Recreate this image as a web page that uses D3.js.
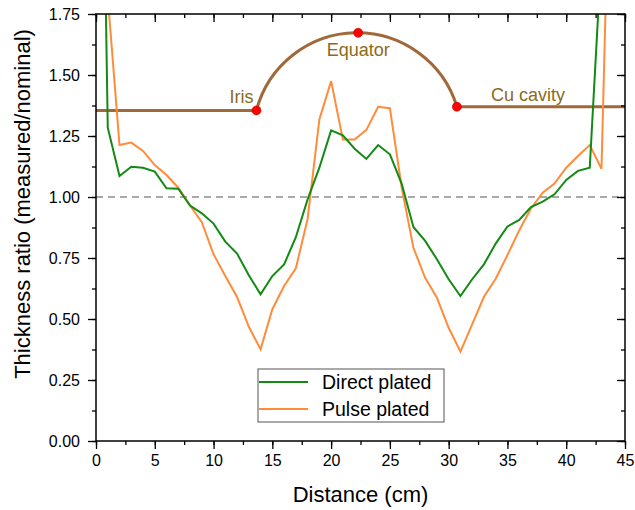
<!DOCTYPE html>
<html><head><meta charset="utf-8">
<script src="https://cdn.jsdelivr.net/npm/d3@7"></script>
<style>body{margin:0;background:#fff}svg{display:block;font-family:"Liberation Sans",Arial,sans-serif}</style>
</head><body><svg id="c" width="635" height="510"></svg>
<script>
const directX = d3.range(0, 44);
const directY = [4.3,1.284,1.086,1.124,1.12,1.104,1.036,1.034,0.965,0.933,0.891,0.817,0.768,0.679,0.601,0.676,0.724,0.835,0.99,1.12,1.273,1.253,1.198,1.156,1.213,1.175,1.055,0.877,0.82,0.745,0.663,0.594,0.663,0.724,0.809,0.879,0.906,0.959,0.981,1.011,1.07,1.107,1.12,2.0];
const pulseX = d3.range(1, 45);
const pulseY = [1.82,1.213,1.223,1.189,1.131,1.09,1.038,0.965,0.897,0.765,0.676,0.59,0.468,0.376,0.54,0.635,0.708,0.91,1.318,1.475,1.236,1.236,1.275,1.37,1.364,1.04,0.792,0.669,0.587,0.464,0.366,0.478,0.591,0.665,0.762,0.863,0.953,1.018,1.055,1.12,1.168,1.213,1.116,3.0];
const seriesNames = ["Direct plated", "Pulse plated"];
const cavityNames = ["Iris", "Equator", "Cu cavity"];
const cavityX = [13.65, 22.3, 30.7];
const cavityY = [1.355, 1.673, 1.37];
const xTicks = [0,5,10,15,20,25,30,35,40,45];
const yTicks = [0,0.25,0.5,0.75,1.0,1.25,1.5,1.75];

const svg = d3.select("#c");
const L=96,R=625,T=14,B=441;
const x = d3.scaleLinear().domain([0,45]).range([L,R]);
const y = d3.scaleLinear().domain([0,1.75]).range([B,T]);
const green="#138a13", orange="#ff8c3a", brown="#a0693a", labelC="#8c6a1c";

svg.append("defs").append("clipPath").attr("id","clip").append("rect")
  .attr("x",L).attr("y",T).attr("width",R-L).attr("height",B-T);

// reference line at 1.0
svg.append("line").attr("x1",x(0)).attr("x2",x(45)).attr("y1",y(1)).attr("y2",y(1))
  .attr("stroke","#8c8c8c").attr("stroke-width",1.5).attr("stroke-dasharray","7,5");

// cavity outline
const g = svg.append("g").attr("clip-path","url(#clip)");
const P = cavityX.map((d,i)=>[x(d), y(cavityY[i])]);
function circ(a,b,c){
  const d=2*(a[0]*(b[1]-c[1])+b[0]*(c[1]-a[1])+c[0]*(a[1]-b[1]));
  const ux=((a[0]**2+a[1]**2)*(b[1]-c[1])+(b[0]**2+b[1]**2)*(c[1]-a[1])+(c[0]**2+c[1]**2)*(a[1]-b[1]))/d;
  const uy=((a[0]**2+a[1]**2)*(c[0]-b[0])+(b[0]**2+b[1]**2)*(a[0]-c[0])+(c[0]**2+c[1]**2)*(b[0]-a[0]))/d;
  return [ux,uy,Math.hypot(a[0]-ux,a[1]-uy)];
}
const [cx,cy,r]=circ(P[0],P[1],P[2]);
const p = d3.path();
p.moveTo(x(0), P[0][1]); p.lineTo(P[0][0],P[0][1]);
p.arc(cx,cy,r,Math.atan2(P[0][1]-cy,P[0][0]-cx),Math.atan2(P[2][1]-cy,P[2][0]-cx),false);
p.lineTo(x(45),P[2][1]);
g.append("path").attr("d",p.toString()).attr("fill","none").attr("stroke",brown).attr("stroke-width",3);

// data lines
const line = (xs)=>d3.line().x((d,i)=>x(xs[i])).y(d=>y(d));
g.append("path").datum(pulseY).attr("d",line(pulseX)).attr("fill","none").attr("stroke",orange).attr("stroke-width",2);
g.append("path").datum(directY).attr("d",line(directX)).attr("fill","none").attr("stroke",green).attr("stroke-width",2);

// cavity dots & labels
svg.selectAll("circle.cv").data(P).join("circle").attr("class","cv")
  .attr("cx",d=>d[0]).attr("cy",d=>d[1]).attr("r",4.5).attr("fill","#ff0000").attr("stroke","#c00000").attr("stroke-width",0.6);
const lab = svg.append("g").attr("fill",labelC).attr("font-size",18);
lab.append("text").attr("x",P[0][0]-3).attr("y",P[0][1]-7).attr("text-anchor","end").text(cavityNames[0]);
lab.append("text").attr("x",P[1][0]).attr("y",P[1][1]+23).attr("text-anchor","middle").text(cavityNames[1]);
lab.append("text").attr("x",P[2][0]+34).attr("y",P[2][1]-6).attr("text-anchor","start").text(cavityNames[2]);

// axes
const fmt = d3.format(".2f");
const ax = svg.append("g");
const mk = (sel)=>{sel.select(".domain").remove(); sel.selectAll("line").attr("stroke","#000").attr("stroke-width",1.3); sel.selectAll("text").attr("fill","#000").style("font-family","Liberation Sans, Arial, sans-serif").style("font-size","16px");};
const xMinor = d3.range(0,45.01,2.5);
const yMinor = d3.range(0,1.751,0.125);
ax.append("g").attr("transform",`translate(0,${B})`).call(d3.axisBottom(x).tickValues(xMinor).tickSize(4).tickFormat("")).call(mk);
ax.append("g").attr("transform",`translate(0,${B})`).call(d3.axisBottom(x).tickValues(xTicks).tickSize(8).tickPadding(6).tickFormat(d3.format("d"))).call(mk);
ax.append("g").attr("transform",`translate(0,${T})`).call(d3.axisBottom(x).tickValues(xMinor).tickSize(4).tickFormat("")).call(mk);
ax.append("g").attr("transform",`translate(0,${T})`).call(d3.axisBottom(x).tickValues(xTicks).tickSize(8).tickFormat("")).call(mk);
ax.append("g").attr("transform",`translate(${L},0)`).call(d3.axisLeft(y).tickValues(yMinor).tickSize(4).tickFormat("")).call(mk);
ax.append("g").attr("transform",`translate(${L},0)`).call(d3.axisLeft(y).tickValues(yTicks).tickSize(8).tickPadding(8).tickFormat(fmt)).call(mk);
ax.append("g").attr("transform",`translate(${R},0)`).call(d3.axisLeft(y).tickValues(yMinor).tickSize(4).tickFormat("")).call(mk);
ax.append("g").attr("transform",`translate(${R},0)`).call(d3.axisLeft(y).tickValues(yTicks).tickSize(8).tickFormat("")).call(mk);
svg.append("rect").attr("x",L).attr("y",T).attr("width",R-L).attr("height",B-T).attr("fill","none").attr("stroke","#000").attr("stroke-width",1.5);

// titles
svg.append("text").attr("x",(L+R)/2).attr("y",502).attr("text-anchor","middle").attr("font-size",22).text("Distance (cm)");
svg.append("text").attr("transform",`translate(30,204) rotate(-90)`).attr("text-anchor","middle").attr("font-size",22).text("Thickness ratio (measured/nominal)");

// legend
const lg = svg.append("g");
lg.append("rect").attr("x",258).attr("y",369).attr("width",186).attr("height",53).attr("fill","#fff").attr("stroke","#555").attr("stroke-width",1);
[green,orange].forEach((c,i)=>{
  const yy = 382 + i*27;
  lg.append("line").attr("x1",259).attr("x2",308).attr("y1",yy).attr("y2",yy).attr("stroke",c).attr("stroke-width",2);
  lg.append("text").attr("x",322).attr("y",yy+6.5).attr("font-size",19.5).text(seriesNames[i]);
});
</script></body></html>
